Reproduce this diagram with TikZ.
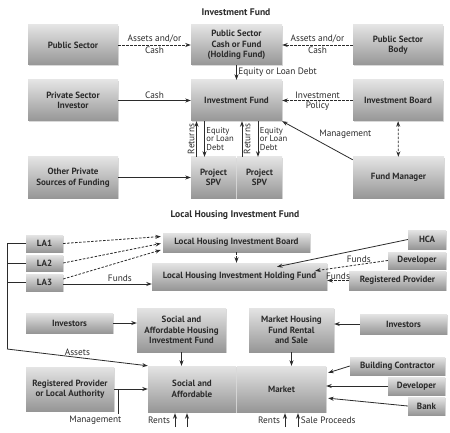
\documentclass[tikz,border=0pt]{standalone}
\usepackage{fontspec}
\setmainfont{PT Sans}
\usetikzlibrary{arrows.meta,shadows,calc}
\definecolor{boxtop}{HTML}{E4E4E4}
\definecolor{boxbot}{HTML}{969696}
\definecolor{txt}{HTML}{2B2B2B}
\newcommand{\bxx}[6]{\node[box, minimum width={(#4-#2)*1pt}, minimum height={(#5-#3)*1pt}] (#1) at ({(#2+#4)/2},{(#3+#5)/2}) {#6};}
\begin{document}
\begin{tikzpicture}[x=1pt,y=-1pt,
  box/.style={shade, top color=boxtop, bottom color=boxbot, draw=none,
    drop shadow={shadow xshift=1.2pt, shadow yshift=-1.2pt, opacity=0.3},
    inner sep=0.5pt, align=center, text=txt,
    font=\fontsize{9}{10.5}\selectfont\bfseries},
  lab/.style={font=\fontsize{9.3}{9.5}\selectfont, text=txt, inner sep=1.5pt},
  ttl/.style={font=\fontsize{9.6}{10}\selectfont\bfseries, text=txt},
  arr/.style={draw=txt, line width=0.8pt, -{Stealth[length=5.5pt,width=4pt]}},
  dasharr/.style={arr, dash pattern=on 2.5pt off 1.5pt},
  dasharrb/.style={draw=txt, line width=0.8pt, dash pattern=on 2.5pt off 1.5pt,
    {Stealth[length=5.5pt,width=4pt]}-{Stealth[length=5.5pt,width=4pt]}},
  ln/.style={draw=txt, line width=0.8pt}]
\useasboundingbox (0,0) rectangle (450,433);

% ---------------- top diagram ----------------
\node[ttl] (t1) at (236,12) {Investment Fund};
\bxx{ps}{28}{25}{118}{65}{Public Sector}
\bxx{psc}{191}{25}{282}{65}{Public Sector\\Cash or Fund\\(Holding Fund)}
\bxx{psb}{353}{25}{443}{65}{Public Sector\\Body}
\bxx{psi}{28}{80}{118}{121}{Private Sector\\Investor}
\bxx{if}{191}{80}{282}{121}{Investment Fund}
\bxx{ib}{353}{80}{443}{121}{Investment Board}
\bxx{ops}{28}{157}{118}{198}{Other Private\\Sources of Funding}
\bxx{spva}{191}{157}{236}{198}{Project\\SPV}
\bxx{spvb}{237}{157}{282}{198}{Project\\SPV}
\bxx{fm}{353}{157}{444}{198}{Fund Manager}

\draw[dasharr] (ps) -- (psc) node[lab,midway,above]{Assets and/or} node[lab,midway,below]{Cash};
\draw[dasharr] (psb) -- (psc) node[lab,midway,above]{Assets and/or} node[lab,midway,below]{Cash};
\draw[arr] (psc) -- (if) node[lab,midway,right]{Equity or Loan Debt};
\draw[arr] (psi) -- (if) node[lab,midway,above]{Cash};
\draw[dasharr] (ib) -- (if) node[lab,midway,above]{Investment} node[lab,midway,below]{Policy};
\draw[dasharrb] (ib) -- (fm);
\draw[arr] ($(fm.north west)+(0,3)$) -- (if.south east) node[lab,midway,above right]{Management};
\draw[arr] (ops) -- (spva);

\draw[arr] ($(spva.north)+(-17,0)$) coordinate (ra) -- (ra |- if.south)
  node[lab,midway,rotate=90,anchor=south]{Returns};
\coordinate (da) at ($(spva.north)+(-9,0)$);
\draw[arr] (da |- if.south) -- (da)
  node[lab,midway,right,align=left,font=\fontsize{8.6}{8.3}\selectfont]{Equity\\or Loan\\Debt};
\draw[arr] ($(spvb.north)+(-17.5,0)$) coordinate (rb) -- (rb |- if.south)
  node[lab,midway,rotate=90,anchor=north]{Returns};
\coordinate (db) at ($(spvb.north)+(-1.5,0)$);
\draw[arr] (db |- if.south) -- (db)
  node[lab,midway,right,align=left,font=\fontsize{8.6}{8.3}\selectfont]{Equity\\or Loan\\Debt};

% ---------------- bottom diagram ----------------
\node[ttl] (t2) at (235,215) {Local Housing Investment Fund};
\bxx{la1}{26}{235}{63}{252}{LA1}
\bxx{la2}{26}{255}{63}{271}{LA2}
\bxx{la3}{26}{274}{63}{291}{LA3}
\bxx{lhib}{163}{233}{310}{252}{Local Housing Investment Board}
\bxx{lhf}{152}{263}{327}{290}{Local Housing Investment Holding Fund}
\bxx{hca}{408}{230}{446}{249}{HCA}
\bxx{dev1}{388}{252}{446}{269}{Developer}
\bxx{rp}{349}{271}{446}{290}{Registered Provider}
\bxx{inv1}{26}{313}{113}{333}{Investors}
\bxx{sahif}{137}{308}{226}{352}{Social and\\Affordable Housing\\Investment Fund}
\bxx{mhf}{249}{308}{334}{352}{Market Housing\\Fund Rental\\and Sale}
\bxx{inv2}{360}{314}{447}{334}{Investors}
\bxx{rpla}{26}{367}{114}{411}{Registered Provider\\or Local Authority}
\bxx{sa}{148}{366}{236}{412}{Social and\\Affordable}
\bxx{mkt}{237}{366}{326}{412}{Market}
\bxx{bc}{350}{357}{445}{375}{Building Contractor}
\bxx{dev2}{388}{377}{445}{395}{Developer}
\bxx{bank}{408}{397}{445}{415}{Bank}

\coordinate (bt) at (7,243.5);
\coordinate (bb) at (7,349);
\draw[ln] (la1.west) -- (bt) -- (bb);
\draw[ln] (la2.west) -- (la2.west -| bt);
\draw[ln] (la3.west) -- (la3.west -| bt);
\draw[arr] (bb) -- (sa.north west) node[lab,midway,above]{Assets};

\draw[dasharr] (la1.east) -- ($(lhib.west)+(-2,-6)$);
\draw[dasharr] (la2.east) -- ($(lhib.west)+(-2,1)$);
\draw[dasharr] ($(la3.east)+(0,-3.5)$) -- ($(lhib.west)+(-2,7.5)$);
\draw[arr] ($(la3.east)+(0,1.5)$) coordinate (f0) -- (f0 -| lhf.west)
  node[lab,pos=0.64,above]{Funds};
\draw[dasharr] (lhib) -- (lhib.south |- lhf.north);
\draw[arr] (hca.west) -- ($(lhf.north)+(37.5,4)$);
\draw[dasharr] (dev1.west) -- ($(lhf.north east)+(-12,8)$) node[lab,pos=0.4,above]{Funds};
\draw[dasharr] (rp.west) -- (rp.west -| lhf.east) node[lab,midway,above,inner sep=0.5pt]{Funds};

\draw[arr] (inv1.east) -- (inv1.east -| sahif.west);
\draw[arr] (inv2.west) -- (inv2.west -| mhf.east);
\draw[arr] (sahif.south) -- (sahif.south |- sa.north);
\draw[arr] (mhf.south) -- (mhf.south |- mkt.north);
\draw[arr] (rpla.east) -- (rpla.east -| sa.west);
\draw[ln] ($(rpla.east)+(4,0)$) -- ++(0,25) node[lab,anchor=north east,xshift=5pt]{Management};

\draw[arr] (bc.west) -- ($(mkt.north east)+(2,7)$);
\draw[arr] (dev2.west) -- (dev2.west -| mkt.east);
\draw[arr] (bank.west) -- ($(mkt.south east)+(2,-14)$);

\draw[arr] ($(sa.south)+(-17,15)$) -- ($(sa.south)+(-17,1)$) node[lab,midway,left,xshift=-3pt]{Rents};
\draw[arr] ($(sa.south)+(-5,15)$) -- ($(sa.south)+(-5,1)$);
\draw[arr] ($(mkt.south)+(3.5,15)$) -- ($(mkt.south)+(3.5,1)$) node[lab,midway,left,xshift=-3pt]{Rents};
\draw[arr] ($(mkt.south)+(16.5,15)$) -- ($(mkt.south)+(16.5,1)$) node[lab,midway,right,xshift=1pt]{Sale Proceeds};
\end{tikzpicture}
\end{document}
